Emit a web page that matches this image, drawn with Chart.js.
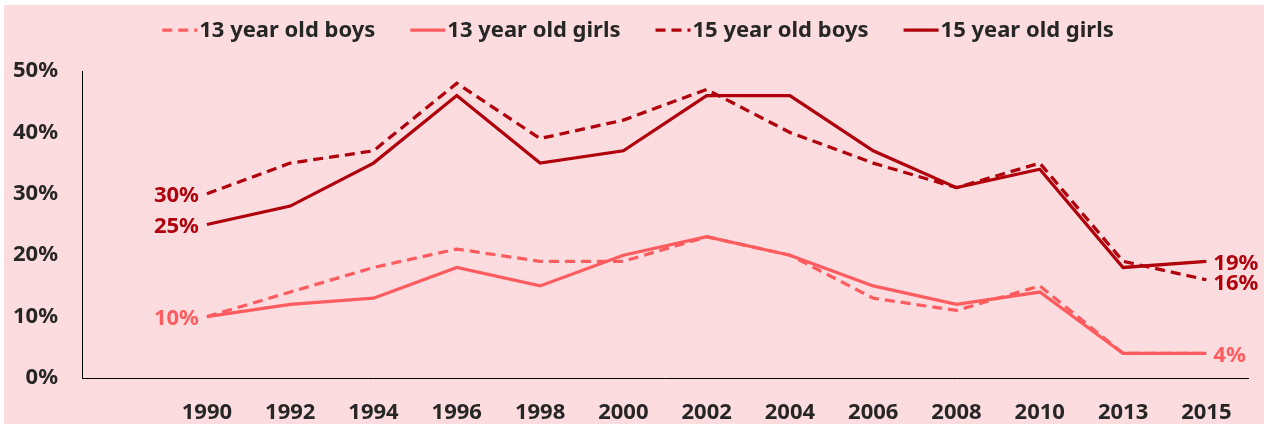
<!DOCTYPE html>
<html>
<head>
<meta charset="utf-8">
<title>Smoking rates by age and sex</title>
<script src="https://cdn.jsdelivr.net/npm/chart.js@4.4.0/dist/chart.umd.min.js"></script>
<style>
    body { margin: 0; background: #ffffff; }
    #wrap {
        position: absolute;
        left: 4px;
        top: 5px;
        width: 1260px;
        height: 419px;
        background: #fddcdf;
    }
</style>
</head>
<body>
<div id="wrap"><canvas id="chart"></canvas></div>
<script>
// Survey years (x axis)
const years = ['1990', '1992', '1994', '1996', '1998', '2000', '2002', '2004', '2006', '2008', '2010', '2013', '2015'];

// Share of each group, in percent
const boys13 = [10, 14, 18, 21, 19, 19, 23, 20, 13, 11, 15, 4, 4];
const girls13 = [10, 12, 13, 18, 15, 20, 23, 20, 15, 12, 14, 4, 4];
const boys15 = [30, 35, 37, 48, 39, 42, 47, 40, 35, 31, 35, 19, 16];
const girls15 = [25, 28, 35, 46, 35, 37, 46, 46, 37, 31, 34, 18, 19];

// Y axis ticks
const yTicks = [0, 10, 20, 30, 40, 50];

const lightRed = '#ff5c5f';
const darkRed = '#b0000b';
const textColor = '#262626';
const fontFamily = '"Noto Sans", "Open Sans", sans-serif';
const boldFont = 'bold 22px ' + fontFamily;

// Excel leaves an empty slot before the first year
const labels = [''].concat(years);
const pad = arr => [null].concat(arr);

// Which end-point labels to draw: dataset index, point index, side
const endLabels = [
    { ds: 2, idx: 1, side: 'left' },
    { ds: 3, idx: 1, side: 'left' },
    { ds: 1, idx: 1, side: 'left' },
    { ds: 3, idx: 13, side: 'right' },
    { ds: 2, idx: 13, side: 'right', dy: 2 },
    { ds: 1, idx: 13, side: 'right' }
];

const endLabelPlugin = {
    id: 'endLabels',
    afterDatasetsDraw(chart) {
        const ctx = chart.ctx;
        ctx.save();
        ctx.font = boldFont;
        ctx.textBaseline = 'middle';
        endLabels.forEach(l => {
            const ds = chart.data.datasets[l.ds];
            const pt = chart.getDatasetMeta(l.ds).data[l.idx];
            ctx.fillStyle = ds.borderColor;
            ctx.textAlign = l.side === 'left' ? 'right' : 'left';
            const x = l.side === 'left' ? pt.x - 8 : pt.x + 7;
            ctx.fillText(ds.data[l.idx] + '%', x, pt.y + 2 + (l.dy || 0));
        });
        ctx.restore();
    }
};

// Legend drawn by hand so the dashes show up like in Excel
const legendPlugin = {
    id: 'lineLegend',
    afterDraw(chart) {
        const ctx = chart.ctx;
        const sets = chart.data.datasets;
        const lineLen = 35, gap = 2, itemGap = 35, y = 25;
        ctx.save();
        ctx.font = boldFont;
        ctx.textBaseline = 'middle';
        ctx.textAlign = 'left';
        const widths = sets.map(ds => lineLen + gap + ctx.measureText(ds.label).width);
        const total = widths.reduce((a, b) => a + b, 0) + itemGap * (sets.length - 1);
        let x = (chart.width - total) / 2 + 4;
        sets.forEach((ds, i) => {
            ctx.strokeStyle = ds.borderColor;
            ctx.lineWidth = 3.25;
            ctx.setLineDash(ds.borderDash);
            ctx.beginPath();
            ctx.moveTo(x, y);
            ctx.lineTo(x + lineLen, y);
            ctx.stroke();
            ctx.setLineDash([]);
            ctx.fillStyle = textColor;
            ctx.fillText(ds.label, x + lineLen + gap, y + 1);
            x += widths[i] + itemGap;
        });
        ctx.restore();
    }
};

function makeSet(label, data, color, dashed) {
    return {
        label: label,
        data: pad(data),
        borderColor: color,
        backgroundColor: color,
        borderWidth: 3.25,
        borderDash: dashed ? [10, 6] : [],
        pointRadius: 0,
        tension: 0
    };
}

new Chart('chart', {
    type: 'line',
    data: {
        labels: labels,
        datasets: [
            makeSet('13 year old boys', boys13, lightRed, true),
            makeSet('13 year old girls', girls13, lightRed, false),
            makeSet('15 year old boys', boys15, darkRed, true),
            makeSet('15 year old girls', girls15, darkRed, false)
        ]
    },
    options: {
        responsive: true,
        maintainAspectRatio: false,
        animation: false,
        layout: { padding: { left: 0, right: 16, top: 66, bottom: 0 } },
        plugins: {
            legend: { display: false },
            tooltip: { enabled: false }
        },
        scales: {
            x: {
                offset: true,
                grid: { display: false, drawTicks: false },
                border: { display: true, color: '#000000', width: 1 },
                ticks: {
                    padding: 22,
                    maxRotation: 0,
                    autoSkip: false,
                    color: textColor,
                    font: { family: fontFamily, size: 22, weight: 'bold' }
                },
                afterFit(scale) { scale.height = 46; }
            },
            y: {
                min: 0,
                max: 50,
                grid: { display: false, drawTicks: false },
                border: { display: true, color: '#000000', width: 1 },
                afterBuildTicks(scale) { scale.ticks = yTicks.map(v => ({ value: v })); },
                ticks: {
                    padding: 24,
                    color: textColor,
                    font: { family: fontFamily, size: 22, weight: 'bold' },
                    callback: v => v + '%'
                },
                afterFit(scale) { scale.width = 78; }
            }
        }
    },
    plugins: [endLabelPlugin, legendPlugin]
});
</script>
</body>
</html>
